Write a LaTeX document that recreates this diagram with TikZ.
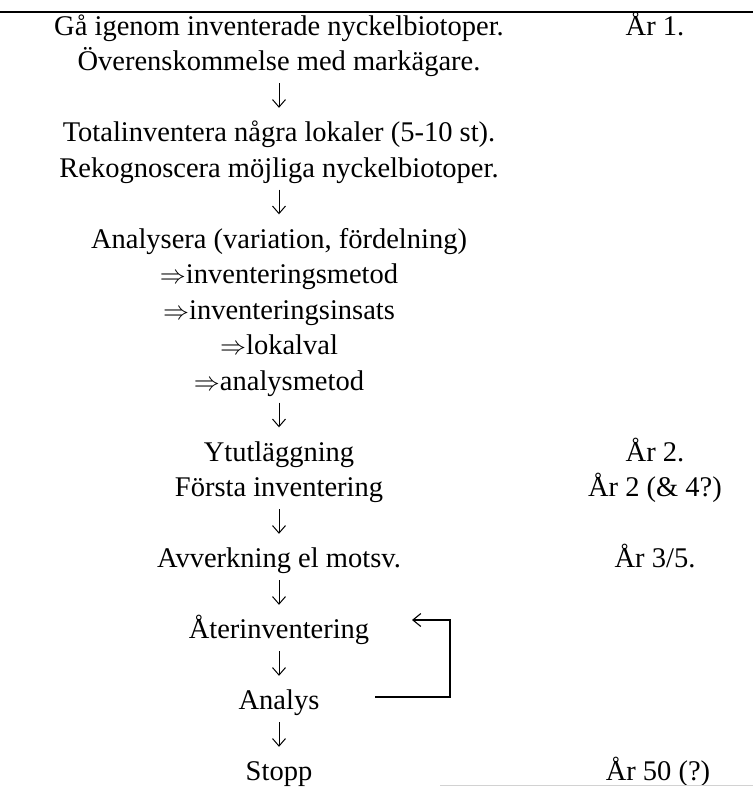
\documentclass[tikz,border=0pt]{standalone}
\usepackage{fontspec}
\usepackage{graphicx}
\setmainfont{Liberation Serif}
\usetikzlibrary{arrows.meta}
\newcommand{\dblarr}{\resizebox{26pt}{!}{$\Rightarrow$}}
\begin{document}
\begin{tikzpicture}[x=1pt,y=-1pt,
  txt/.style={anchor=base, inner sep=0pt, text height=20pt, text depth=6.5pt,
              font=\fontsize{28.5}{31}\selectfont},
  flow/.style={line width=1pt,
               -{Straight Barb[length=7.5pt,width=13pt]},
               shorten <=6pt, shorten >=13.5pt},
  back/.style={line width=1.1pt, -{Straight Barb[length=8pt,width=13pt]}},
  rule/.style={line width=2.4pt},
  faint/.style={gray!35, line width=0.8pt}
]
\useasboundingbox (0,0) rectangle (753,787);

\draw[rule] (0,12) -- (753,12);

% main column
\node[txt] (l1)  at (279,35)    {Gå igenom inventerade nyckelbiotoper.};
\node[txt] (l2)  at (279,70.5)  {Överenskommelse med markägare.};
\node[txt] (l3)  at (279,141.5) {Totalinventera några lokaler (5-10 st).};
\node[txt] (l4)  at (279,177)   {Rekognoscera möjliga nyckelbiotoper.};
\node[txt] (l5)  at (279,248)   {Analysera (variation, fördelning)};
\node[txt] (l6)  at (279,283.5) {\dblarr inventeringsmetod};
\node[txt] (l7)  at (279,319)   {\dblarr inventeringsinsats};
\node[txt] (l8)  at (279,354.5) {\dblarr lokalval};
\node[txt] (l9)  at (279,390)   {\dblarr analysmetod};
\node[txt] (l10) at (279,461)   {Ytutläggning};
\node[txt] (l11) at (279,496.5) {Första inventering};
\node[txt] (l12) at (279,567.5) {Avverkning el motsv.};
\node[txt] (l13) at (279,638.5) {Återinventering};
\node[txt] (l14) at (279,709.5) {Analys};
\node[txt] (l15) at (279,780.5) {Stopp};

% right column
\node[txt] (y1)  at (655,35)    {År 1.};
\node[txt] (y2)  at (655,461)   {År 2.};
\node[txt] (y3)  at (655,496.5) {År 2 (\& 4?)};
\node[txt] (y4)  at (655,567.5) {År 3/5.};
\node[txt] (y5)  at (658,780.5) {År 50 (?)};

% flow arrows
\draw[flow] (l2.south)  -- (l3.north);
\draw[flow] (l4.south)  -- (l5.north);
\draw[flow] (l9.south)  -- (l10.north);
\draw[flow] (l11.south) -- (l12.north);
\draw[flow] (l12.south) -- (l13.north);
\draw[flow] (l13.south) -- (l14.north);
\draw[flow] (l14.south) -- (l15.north);

% feedback loop
\coordinate (lpS) at (375,697);
\coordinate (lpC) at (450,620);
\coordinate (lpE) at (412,620);
\draw[back] (lpS) -| (lpC) -- (lpE);

\draw[faint] (440,785.5) -- (753,785.5);
\end{tikzpicture}
\end{document}
